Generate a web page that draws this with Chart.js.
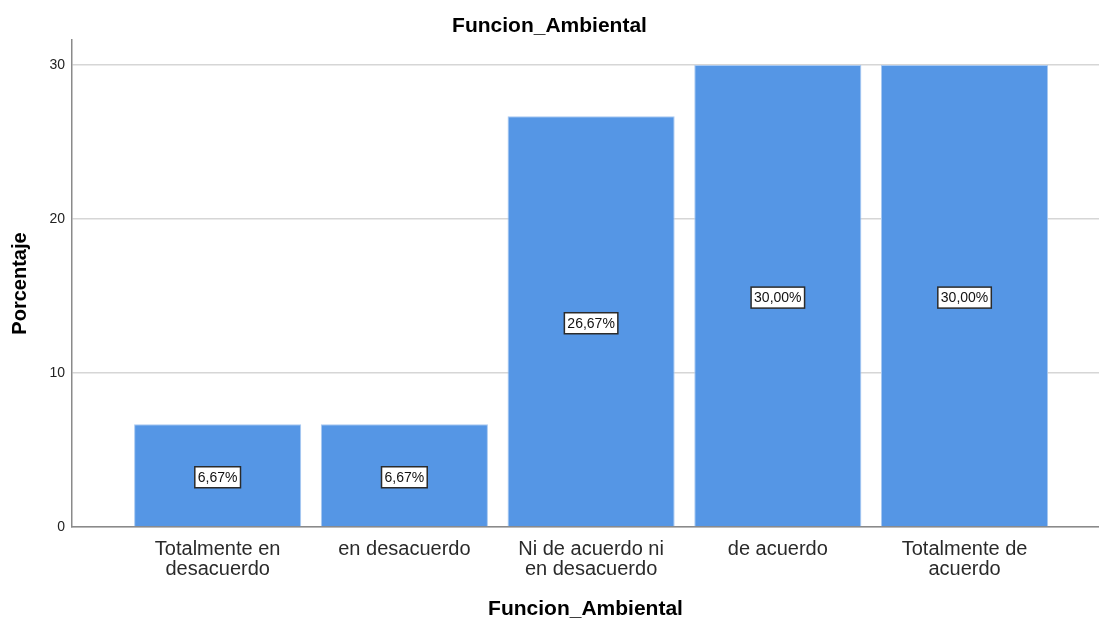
<!DOCTYPE html>
<html>
<head>
<meta charset="utf-8">
<script src="https://cdn.jsdelivr.net/npm/chart.js@4/dist/chart.umd.min.js"></script>
<style>
  html, body { margin: 0; padding: 0; background: #fff; }
  #wrap { width: 1099px; height: 618px; }
</style>
</head>
<body>
<div id="wrap"><canvas id="c" width="1099" height="618"></canvas></div>
<script>
const categories = [
  ["Totalmente en", "desacuerdo"],
  ["en desacuerdo"],
  ["Ni de acuerdo ni", "en desacuerdo"],
  ["de acuerdo"],
  ["Totalmente de", "acuerdo"]
];
const percentages = [6.67, 6.67, 26.67, 30.00, 30.00];
const yTicks = [0, 10, 20, 30];
const chartTitle = "Funcion_Ambiental";
const xTitle = "Funcion_Ambiental";
const yTitle = "Porcentaje";

const FONT = "'Liberation Sans', Arial, sans-serif";

const barLabels = {
  id: 'barLabels',
  afterDatasetsDraw(chart) {
    const ctx = chart.ctx;
    const meta = chart.getDatasetMeta(0);
    ctx.save();
    ctx.font = "14px " + FONT;
    ctx.textAlign = 'center';
    ctx.textBaseline = 'middle';
    meta.data.forEach((bar, i) => {
      const txt = percentages[i].toFixed(2).replace('.', ',') + '%';
      const cx = bar.x;
      const cy = (bar.y + bar.base) / 2 + 2;
      const w = ctx.measureText(txt).width + 6;
      const h = 21;
      ctx.fillStyle = '#ffffff';
      ctx.fillRect(cx - w / 2, cy - h / 2, w, h);
      ctx.strokeStyle = '#2b2b2b';
      ctx.lineWidth = 1.5;
      ctx.strokeRect(cx - w / 2, cy - h / 2, w, h);
      ctx.fillStyle = '#111';
      ctx.fillText(txt, cx, cy + 1);
    });
    ctx.restore();
  }
};

new Chart(document.getElementById('c'), {
  type: 'bar',
  data: {
    datasets: [{
      data: percentages.map((v, i) => ({ x: i, y: v })),
      backgroundColor: '#5596e5',
      borderColor: '#a9c9f1',
      borderWidth: 1,
      barPercentage: 0.895,
      categoryPercentage: 1.0
    }]
  },
  options: {
    responsive: false,
    animation: false,
    events: [],
    layout: { padding: 0 },
    plugins: {
      legend: { display: false },
      tooltip: { enabled: false },
      title: {
        display: true,
        text: chartTitle,
        color: '#000',
        font: { family: FONT, size: 21, weight: 'bold', lineHeight: 1.2 },
        padding: { top: 13.4, bottom: 1.4 }
      }
    },
    scales: {
      x: {
        type: 'linear',
        min: -0.78,
        max: 4.72,
        offset: false,
        afterBuildTicks(scale) {
          scale.ticks = categories.map((c, i) => ({ value: i }));
        },
        afterFit(scale) { scale.height = 91; },
        grid: { display: false, drawTicks: false },
        border: { display: true, color: '#8a8a8a', width: 1.5 },
        ticks: {
          autoSkip: false,
          maxRotation: 0,
          padding: 12,
          color: '#2a2a2a',
          font: { family: FONT, size: 20, lineHeight: 1.0 },
          callback: (v) => categories[v]
        },
        title: {
          display: true,
          text: xTitle,
          color: '#000',
          font: { family: FONT, size: 21, weight: 'bold', lineHeight: 1.0 },
          padding: { top: 0, bottom: -2 }
        }
      },
      y: {
        min: 0,
        max: 31.62,
        afterBuildTicks(scale) {
          scale.ticks = yTicks.map(v => ({ value: v }));
        },
        afterFit(scale) { scale.width = 72; },
        grid: { color: '#d6d6d6', lineWidth: 1.5, drawTicks: false },
        border: { display: true, color: '#8a8a8a', width: 1.5 },
        ticks: {
          padding: 7,
          color: '#222',
          font: { family: FONT, size: 14 }
        },
        title: {
          display: true,
          text: yTitle,
          color: '#000',
          font: { family: FONT, size: 20, weight: 'bold', lineHeight: 1.0 },
          padding: { top: 10, bottom: 0 }
        }
      }
    }
  },
  plugins: [barLabels]
});
</script>
</body>
</html>
